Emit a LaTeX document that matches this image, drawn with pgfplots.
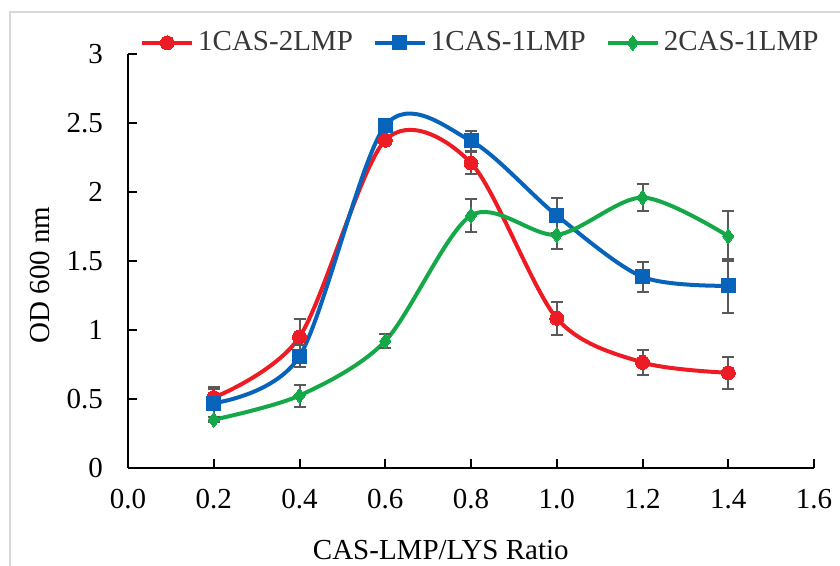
\documentclass[border=0pt]{standalone}
\usepackage{fontspec}
\setmainfont{Liberation Serif}
\usepackage{pgfplots}
\pgfplotsset{compat=1.18}
\definecolor{cred}{RGB}{237,28,36}
\definecolor{cblue}{RGB}{8,99,186}
\definecolor{cgreen}{RGB}{20,168,72}
\definecolor{cerr}{RGB}{89,89,89}
\definecolor{cborder}{RGB}{217,217,217}
\begin{document}
\begin{tikzpicture}
\useasboundingbox (0,0) rectangle (420pt,283pt);
\draw[cborder, line width=0.8pt] (5pt,0) -- (5pt,277pt) -- (420pt,277pt);
\begin{axis}[
  at={(64pt,49pt)}, anchor=origin,
  scale only axis, width=343pt, height=207pt,
  xmin=0, xmax=1.6, ymin=0, ymax=3,
  xtick={0,0.2,...,1.6}, ytick={0,0.5,...,3},
  axis x line*=bottom, axis y line*=left,
  axis line style={line width=1pt, black},
  tick align=inside, major tick length=4.3pt,
  tick style={line width=1pt, black},
  font=\fontsize{14.5}{17}\selectfont,
  /pgf/number format/assume math mode=true,
  xticklabel style={/pgf/number format/.cd, fixed, fixed zerofill, precision=1, /tikz/.cd, yshift=-7pt},
  yticklabel style={xshift=-9pt},
  xlabel={CAS-LMP/LYS Ratio},
  xlabel style={at={(axis description cs:0.456,-0.198)}, anchor=center},
  ylabel={OD 600 nm},
  ylabel style={at={(axis description cs:-0.128,0.466)}, anchor=center, rotate=0},
  clip=false,
  legend columns=3,
  legend style={draw=none, fill=none, at={(axis description cs:0.515,1.027)}, anchor=center,
    font=\fontsize{14.5}{17}\selectfont, text=black!78, inner sep=0pt,
    /tikz/every even column/.append style={column sep=8pt}},
  legend cell align=left,
  legend image code/.code={\draw[mark repeat=2,mark phase=2] plot coordinates {(0cm,0cm) (0.44cm,0cm) (0.88cm,0cm)};},
  every axis plot/.append style={line width=2pt, smooth},
  error bars/y dir=both, error bars/y explicit,
  error bars/error bar style={cerr, line width=1pt, solid},
  error bars/error mark options={rotate=90, mark size=3pt, line width=1pt, cerr},
]
\addplot[cred, mark=*, mark size=3.5pt, mark options={solid, fill=cred, draw=cred, line width=0pt}]
coordinates {
 (0.2,0.51) +- (0,0.08)
 (0.4,0.95) +- (0,0.13)
 (0.6,2.375) +- (0,0.03)
 (0.8,2.21) +- (0,0.08)
 (1.0,1.085) +- (0,0.12)
 (1.2,0.765) +- (0,0.09)
 (1.4,0.69) +- (0,0.115)
};
\addlegendentry{1CAS-2LMP}
\addplot[cblue, mark=square*, mark size=3.5pt, mark options={solid, fill=cblue, draw=cblue, line width=0pt}]
coordinates {
 (0.2,0.47) +- (0,0.10)
 (0.4,0.81) +- (0,0.08)
 (0.6,2.48) +- (0,0.03)
 (0.8,2.37) +- (0,0.075)
 (1.0,1.83) +- (0,0.13)
 (1.2,1.385) +- (0,0.11)
 (1.4,1.32) +- (0,0.195)
};
\addlegendentry{1CAS-1LMP}
\addplot[cgreen, mark=diamond*, mark size=3.8pt, mark options={solid, fill=cgreen, draw=cgreen, line width=0pt}]
coordinates {
 (0.2,0.35) +- (0,0.02)
 (0.4,0.525) +- (0,0.08)
 (0.6,0.92) +- (0,0.05)
 (0.8,1.83) +- (0,0.12)
 (1.0,1.69) +- (0,0.10)
 (1.2,1.96) +- (0,0.10)
 (1.4,1.68) +- (0,0.18)
};
\addlegendentry{2CAS-1LMP}
\end{axis}
\end{tikzpicture}
\end{document}
